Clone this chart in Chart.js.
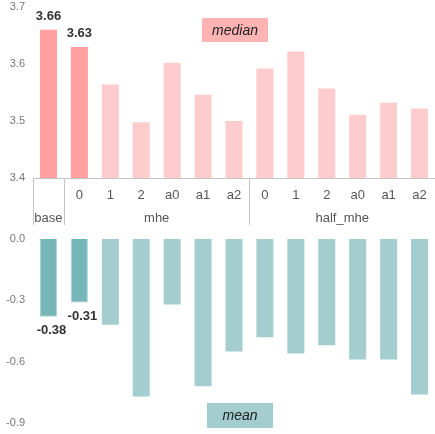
<!DOCTYPE html>
<html>
<head>
<meta charset="utf-8">
<script src="https://cdn.jsdelivr.net/npm/chart.js@4/dist/chart.umd.min.js"></script>
<style>
  body { margin: 0; background: #fff; }
  #wrap { position: relative; width: 435px; height: 434px; }
  #topChart { position: absolute; left: 0; top: 0; }
  #bottomChart { position: absolute; left: 0; top: 232px; }
</style>
</head>
<body>
<div id="wrap">
  <canvas id="topChart" width="435" height="232"></canvas>
  <canvas id="bottomChart" width="435" height="202"></canvas>
</div>
<script>
// categories (first level) and groups (second level)
const subLabels = ['', '0', '1', '2', 'a0', 'a1', 'a2', '0', '1', '2', 'a0', 'a1', 'a2'];
const groups = [
    { name: 'base', from: 0, to: 0 },
    { name: 'mhe', from: 1, to: 6 },
    { name: 'half_mhe', from: 7, to: 12 }
];

// values
const medianValues = [3.66, 3.63, 3.564, 3.498, 3.602, 3.546, 3.50, 3.592, 3.622, 3.557, 3.511, 3.532, 3.522];
const meanValues = [-0.38, -0.31, -0.42, -0.77, -0.32, -0.72, -0.55, -0.48, -0.56, -0.52, -0.59, -0.59, -0.76];
const highlighted = [0, 1]; // bars with value labels

const topTicks = [3.4, 3.5, 3.6, 3.7];
const bottomTicks = [0, -0.3, -0.6, -0.9];

const FONT = "'Liberation Sans', Arial, sans-serif";

const pinkStrong = '#ff9f9f';
const pinkLight = '#ffccce';
const tealStrong = '#77b6b6';
const tealLight = '#a4cdcf';

function barColors(strong, light) {
    return medianValues.map((v, i) => highlighted.includes(i) ? strong : light);
}

// draws category labels, group labels and separators under the top chart
const groupAxisPlugin = {
    id: 'groupAxis',
    afterDraw(chart) {
        const ctx = chart.ctx;
        const x = chart.scales.x;
        const area = chart.chartArea;
        const step = x.getPixelForValue(1) - x.getPixelForValue(0);
        ctx.save();
        ctx.fillStyle = '#555';
        ctx.font = '13px ' + FONT;
        ctx.textAlign = 'center';
        ctx.textBaseline = 'middle';
        subLabels.forEach((lab, i) => {
            ctx.fillText(lab, x.getPixelForValue(i), area.bottom + 17);
        });
        groups.forEach(g => {
            const cx = (x.getPixelForValue(g.from) + x.getPixelForValue(g.to)) / 2;
            ctx.fillText(g.name, cx, area.bottom + 40);
            const sx = Math.round(x.getPixelForValue(g.from) - step / 2) + 0.5;
            ctx.strokeStyle = '#c4c4c4';
            ctx.lineWidth = 1;
            ctx.beginPath();
            ctx.moveTo(sx, area.bottom);
            ctx.lineTo(sx, area.bottom + 47);
            ctx.stroke();
        });
        ctx.restore();
    }
};

// value labels over/under the highlighted bars, and the title boxes
function makeLabelPlugin(values, above, boxText, boxColor, boxRect) {
    return {
        id: 'valueLabels',
        afterDatasetsDraw(chart) {
            const ctx = chart.ctx;
            const x = chart.scales.x;
            const y = chart.scales.y;
            ctx.save();
            ctx.fillStyle = '#333';
            ctx.font = 'bold 13px ' + FONT;
            ctx.textAlign = 'center';
            ctx.textBaseline = 'middle';
            highlighted.forEach(i => {
                const px = x.getPixelForValue(i) + (above ? 0 : 3);
                const py = y.getPixelForValue(values[i]) + (above ? -13 : 14);
                ctx.fillText(values[i].toFixed(2), px, py);
            });
            ctx.fillStyle = boxColor;
            ctx.fillRect(boxRect[0], boxRect[1], boxRect[2], boxRect[3]);
            ctx.fillStyle = '#222';
            ctx.font = 'italic 14px ' + FONT;
            ctx.fillText(boxText, boxRect[0] + boxRect[2] / 2, boxRect[1] + boxRect[3] / 2 + 1);
            ctx.restore();
        }
    };
}

function yAxis(min, max, ticks) {
    return {
        min: min,
        max: max,
        afterFit: s => {
            s.width = 33;
            s.paddingTop = 0;
            s.paddingBottom = 0;
        },
        afterBuildTicks: s => { s.ticks = ticks.map(v => ({ value: v })); },
        grid: { display: false, drawTicks: false },
        border: { display: false },
        ticks: {
            color: '#777',
            font: { size: 11, family: FONT },
            padding: 8,
            callback: v => v.toFixed(1)
        }
    };
}

new Chart(document.getElementById('topChart'), {
    type: 'bar',
    data: {
        labels: subLabels,
        datasets: [{
            data: medianValues,
            backgroundColor: barColors(pinkStrong, pinkLight),
            barPercentage: 0.55,
            categoryPercentage: 1.0
        }]
    },
    options: {
        responsive: false,
        animation: false,
        layout: { padding: { top: 7, right: 0, left: 0, bottom: 0 } },
        plugins: { legend: { display: false }, tooltip: { enabled: false } },
        scales: {
            x: {
                afterFit: s => { s.height = 54; },
                grid: { display: false },
                border: { display: true, color: '#c4c4c4' },
                ticks: { display: false }
            },
            y: yAxis(3.4, 3.7, topTicks)
        }
    },
    plugins: [groupAxisPlugin, makeLabelPlugin(medianValues, true, 'median', '#ffb4b4', [202, 18, 66, 24])]
});

new Chart(document.getElementById('bottomChart'), {
    type: 'bar',
    data: {
        labels: subLabels,
        datasets: [{
            data: meanValues,
            backgroundColor: barColors(tealStrong, tealLight),
            borderColor: '#a6d0d0',
            borderWidth: meanValues.map((v, i) => highlighted.includes(i) ? 1 : 0),
            barPercentage: 0.55,
            categoryPercentage: 1.0
        }]
    },
    options: {
        responsive: false,
        animation: false,
        layout: { padding: { top: 7, right: 0, left: 0, bottom: 11 } },
        plugins: { legend: { display: false }, tooltip: { enabled: false } },
        scales: {
            x: { display: false },
            y: yAxis(-0.9, 0, bottomTicks)
        }
    },
    plugins: [makeLabelPlugin(meanValues, false, 'mean', tealLight, [207, 171, 66, 25])]
});
</script>
</body>
</html>
